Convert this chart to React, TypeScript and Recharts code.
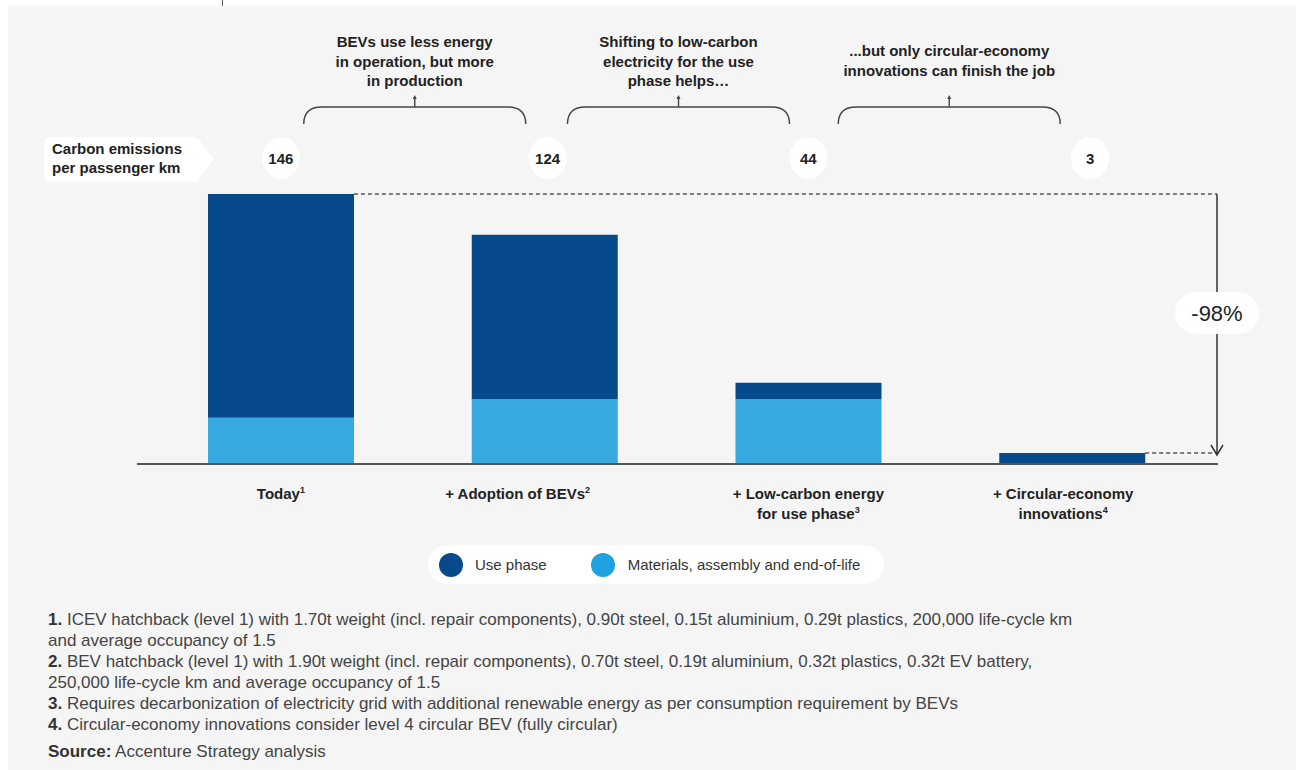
import React from "react";
import { BarChart, Bar, XAxis, YAxis } from "recharts";

const categories = [
  "Today",
  "+ Adoption of BEVs",
  "+ Low-carbon energy\nfor use phase",
  "+ Circular-economy\ninnovations",
];
const footnoteRefs = ["1", "2", "3", "4"];
const usePhase = [121, 89, 9, 3];
const materials = [25, 35, 35, 0];
const totals = [146, 124, 44, 3];
const reductionLabel = "-98%";

const stepNotes = [
  ["BEVs use less energy", "in operation, but more", "in production"],
  ["Shifting to low-carbon", "electricity for the use", "phase helps…"],
  ["...but only circular-economy", "innovations can finish the job"],
];

const footnotes: [string, string][] = [
  ["1.", " ICEV hatchback (level 1) with 1.70t weight (incl. repair components), 0.90t steel, 0.15t aluminium, 0.29t plastics, 200,000 life-cycle km"],
  ["", "and average occupancy of 1.5"],
  ["2.", " BEV hatchback (level 1) with 1.90t weight (incl. repair components), 0.70t steel, 0.19t aluminium, 0.32t plastics, 0.32t EV battery,"],
  ["", "250,000 life-cycle km and average occupancy of 1.5"],
  ["3.", " Requires decarbonization of electricity grid with additional renewable energy as per consumption requirement by BEVs"],
  ["4.", " Circular-economy innovations consider level 4 circular BEV (fully circular)"],
];

const data = categories.map((name, i) => ({
  name,
  materials: materials[i],
  use: usePhase[i],
}));

const DARK = "#064a8c";
const LIGHT = "#38a9e0";
const FONT = '"Liberation Sans", Arial, Helvetica, sans-serif';

// geometry of the plot area
const W = 1296;
const CHART_H = 540;
const PLOT_LEFT = 137;
const PLOT_RIGHT = 1218;
const PLOT_TOP = 194;
const BASE_Y = 464;
const AXIS_H = 30;
const PAD_L = 12;
const PAD_R = 14;
const BAR_W = 146;
const MIN_BAR = 11;
const Y_MAX = 146;
const TICK_SHIFT = [0, -27, 0, -9];

const band = (PLOT_RIGHT - PLOT_LEFT - PAD_L - PAD_R) / categories.length;
const xMid = (i: number) => PLOT_LEFT + PAD_L + band * (i + 0.5);
const yOf = (v: number) => BASE_Y - (v / Y_MAX) * (BASE_Y - PLOT_TOP);

function Tick(props: any) {
  const { payload } = props;
  const x = xMid(payload.index) + TICK_SHIFT[payload.index];
  const lines = String(payload.value).split("\n");
  return (
    <text x={x} y={BASE_Y + 35} textAnchor="middle" fontFamily={FONT} fontSize={15} fontWeight={700} fill="#222">
      {lines.map((l, i) => (
        <tspan key={i} x={x} dy={i === 0 ? 0 : 20}>
          {l}
          {i === lines.length - 1 && (
            <tspan fontSize={9} dy={-6}>
              {footnoteRefs[payload.index]}
            </tspan>
          )}
        </tspan>
      ))}
    </text>
  );
}

function Annotations() {
  const lastTop = Math.min(yOf(totals[3]), BASE_Y - MIN_BAR);
  const arrowX = PLOT_RIGHT - 1;
  const pillY = 313;
  return (
    <svg width={W} height={770} style={{ position: "absolute", left: 0, top: 0, pointerEvents: "none" }}>
      {/* dashed guides */}
      <line x1={xMid(0) + BAR_W / 2} x2={arrowX} y1={yOf(totals[0])} y2={yOf(totals[0])} stroke="#555" strokeWidth={1.3} strokeDasharray="4 3" />
      <line x1={xMid(3) + BAR_W / 2} x2={arrowX} y1={lastTop} y2={lastTop} stroke="#555" strokeWidth={1.3} strokeDasharray="4 3" />
      {/* vertical arrow */}
      <line x1={arrowX} x2={arrowX} y1={yOf(totals[0])} y2={lastTop + 2} stroke="#333" strokeWidth={1.5} />
      <polyline points={`${arrowX - 6},${lastTop - 8} ${arrowX},${lastTop + 2} ${arrowX + 6},${lastTop - 8}`} fill="none" stroke="#333" strokeWidth={1.5} />
      <rect x={arrowX - 42} y={pillY - 21} width={84} height={42} rx={21} fill="#fff" />
      <text x={arrowX} y={pillY + 8} textAnchor="middle" fontFamily={FONT} fontSize={22} fill="#222">
        {reductionLabel}
      </text>

      {/* y label pennant */}
      <path d="M50 137 L197 137 L214 159.5 L197 182 L50 182 Q44 182 44 176 L44 143 Q44 137 50 137 Z" fill="#fff" />
      <text x={52} y={154} fontFamily={FONT} fontSize={15} fontWeight={700} fill="#222">
        <tspan x={52}>Carbon emissions</tspan>
        <tspan x={52} dy={19}>per passenger km</tspan>
      </text>

      {/* totals in circles */}
      {totals.map((t, i) => {
        const cx = xMid(i) + (i === 3 ? 18 : i === 1 ? 3 : 0);
        return (
          <g key={i}>
            <ellipse cx={cx} cy={158} rx={19} ry={21} fill="#fff" />
            <text x={cx} y={163.5} textAnchor="middle" fontFamily={FONT} fontSize={15} fontWeight={700} fill="#222">
              {t}
            </text>
          </g>
        );
      })}

      {/* braces and step notes */}
      {stepNotes.map((lines, i) => {
        const c = (xMid(i) + xMid(i + 1)) / 2 + (i === 2 ? 9 : 2);
        const x1 = c - 111;
        const x2 = c + 111;
        const top = 107;
        const bot = 124;
        const startY = lines.length === 3 ? 47 : 56;
        return (
          <g key={i}>
            <path d={`M${x1} ${bot} Q${x1} ${top} ${x1 + 18} ${top} L${x2 - 18} ${top} Q${x2} ${top} ${x2} ${bot}`} fill="none" stroke="#444" strokeWidth={1.4} />
            <line x1={c} x2={c} y1={top} y2={97} stroke="#444" strokeWidth={1.4} />
            <polygon points={`${c - 2},${99} ${c},${95} ${c + 2},${99}`} fill="#444" />
            <text x={c} y={startY} textAnchor="middle" fontFamily={FONT} fontSize={15} fontWeight={700} fill="#222">
              {lines.map((l, k) => (
                <tspan key={k} x={c} dy={k === 0 ? 0 : 19.5}>
                  {l}
                </tspan>
              ))}
            </text>
          </g>
        );
      })}
    </svg>
  );
}

export default function App() {
  return (
    <div style={{ position: "absolute", left: 0, top: 0, width: W, height: 770, background: "#fff", overflow: "hidden", fontFamily: FONT }}>
      <div style={{ position: "absolute", left: 8, top: 6, right: 0, bottom: 0, background: "#f5f5f5" }} />
      <div style={{ position: "absolute", left: 222, top: 0, width: 1, height: 6, background: "#555" }} />

      <div style={{ position: "absolute", left: 0, top: 0 }}>
        <BarChart
          width={W}
          height={CHART_H}
          data={data}
          margin={{ top: PLOT_TOP, right: W - PLOT_RIGHT, bottom: CHART_H - BASE_Y - AXIS_H, left: PLOT_LEFT }}
        >
          <XAxis
            dataKey="name"
            padding={{ left: PAD_L, right: PAD_R }}
            axisLine={{ stroke: "#555", strokeWidth: 2 }}
            tickLine={false}
            interval={0}
            tick={<Tick />}
            height={AXIS_H}
          />
          <YAxis hide domain={[0, Y_MAX]} />
          <Bar dataKey="materials" stackId="a" fill={LIGHT} barSize={BAR_W} isAnimationActive={false} />
          <Bar dataKey="use" stackId="a" fill={DARK} barSize={BAR_W} minPointSize={MIN_BAR} isAnimationActive={false} />
        </BarChart>
      </div>

      <Annotations />

      {/* legend */}
      <div style={{ position: "absolute", left: 428, top: 545, width: 456, height: 39, background: "#fff", borderRadius: 20, display: "flex", alignItems: "center", fontSize: 15, color: "#333" }}>
        <span style={{ width: 24, height: 24, borderRadius: 12, background: DARK, marginLeft: 11 }} />
        <span style={{ marginLeft: 12 }}>Use phase</span>
        <span style={{ width: 24, height: 24, borderRadius: 12, background: "#1fa2e0", marginLeft: 44 }} />
        <span style={{ marginLeft: 13 }}>Materials, assembly and end-of-life</span>
      </div>

      {/* footnotes */}
      <div style={{ position: "absolute", left: 48, top: 609, fontSize: 17, color: "#444", lineHeight: "21px", whiteSpace: "nowrap" }}>
        {footnotes.map(([n, t], i) => (
          <div key={i}>
            {n && <b style={{ color: "#333" }}>{n}</b>}
            {t}
          </div>
        ))}
        <div style={{ marginTop: 6 }}>
          <b style={{ color: "#333" }}>Source:</b> Accenture Strategy analysis
        </div>
      </div>
    </div>
  );
}
